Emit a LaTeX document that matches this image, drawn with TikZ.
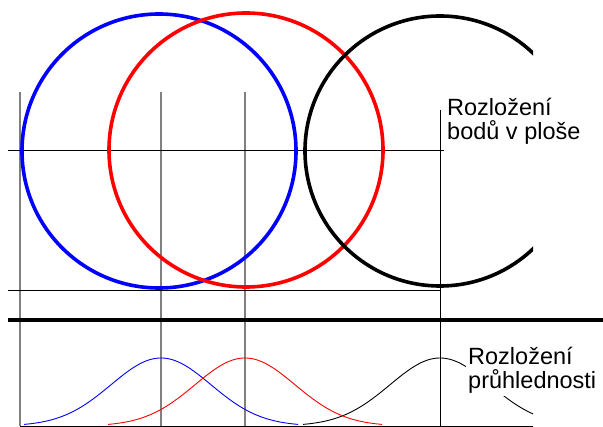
\documentclass[tikz,border=0pt]{standalone}
\usepackage{fontspec}
\setmainfont{Liberation Sans}
\begin{document}
\begin{tikzpicture}[x=1pt,y=-1pt,
  ring/.style={line width=3.6pt},
  guide/.style={draw=gray, line width=1.3pt},
  thin/.style={draw=black, line width=0.9pt},
  bell/.style={line width=0.9pt},
  lbl/.style={font=\fontsize{23.5}{24}\selectfont, align=left, inner sep=2pt, anchor=base west}]
\useasboundingbox (0,0) rectangle (603,427);
% guides
\draw[guide] (20,92) -- (20,426);
\draw[guide] (161,92) -- (161,426);
\draw[guide] (245,92) -- (245,426);
\draw[thin] (440,110) -- (440,426);
\draw[thin] (8,150) -- (444,150);
\draw[thin] (8,290) -- (440,290);
\draw[thin] (20,426) -- (533,426);
\draw[line width=4.2pt] (8,320) -- (603,320);
% circles
\draw[ring, blue] (159,151) circle[radius=137];
\draw[ring, red] (246,150) circle[radius=137];
\begin{scope}
\clip (0,0) rectangle (533,427);
\draw[ring, black] (440,151) circle[radius=135];
\draw[bell, black] plot[domain=303:533, samples=90] (\x, {426-68*exp(-0.5*((\x-440)/50)^2)});
\end{scope}
% bells
\draw[bell, blue] plot[domain=24:298, samples=100] (\x, {426-68*exp(-0.5*((\x-161)/50)^2)});
\draw[bell, red] plot[domain=108:382, samples=100] (\x, {426-68*exp(-0.5*((\x-245)/50)^2)});
% labels
\node[lbl] (top) at (445,140) {Rozložení\\bodů v ploše};
\node[lbl, fill=white] (bottom) at (466,389) {Rozložení\\průhlednosti};
\end{tikzpicture}
\end{document}
